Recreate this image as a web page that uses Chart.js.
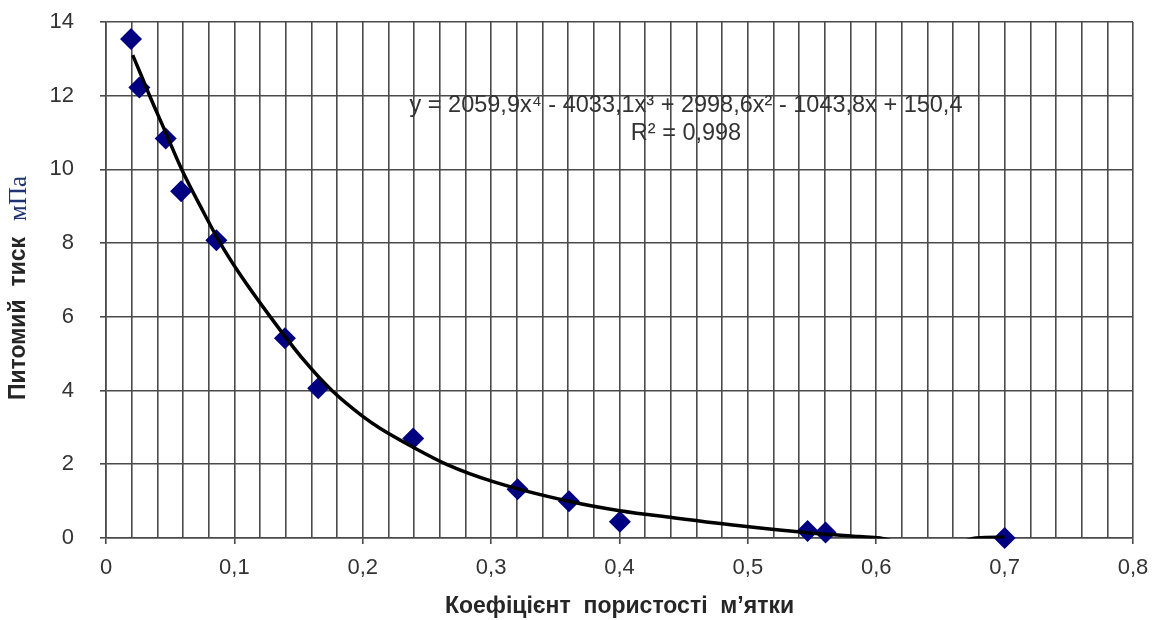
<!DOCTYPE html>
<html>
<head>
<meta charset="utf-8">
<script src="https://cdn.jsdelivr.net/npm/chart.js@4.4.1/dist/chart.umd.min.js"></script>
<style>
  html, body { margin: 0; padding: 0; background: #ffffff; }
  #wrap { width: 1155px; height: 620px; position: relative; }
</style>
</head>
<body>
<div id="wrap"><canvas id="chart" width="1155" height="620"></canvas></div>
<script>
// Measured points: porosity coefficient vs specific pressure (MPa)
const porosity = [0.0195, 0.026, 0.0465, 0.0585, 0.086, 0.1394, 0.1653, 0.2393, 0.3206, 0.3606, 0.4003, 0.5465, 0.5605, 0.700];
const pressure = [13.54, 12.22, 10.84, 9.41, 8.08, 5.42, 4.06, 2.70, 1.32, 1.00, 0.44, 0.19, 0.15, 0.00];

// Polynomial trend line, sampled along its drawn course
const trendX = [0.0208, 0.027, 0.034, 0.045, 0.059, 0.074, 0.089, 0.105, 0.128, 0.154, 0.176, 0.2, 0.2134, 0.24, 0.2653, 0.3016, 0.3614, 0.4003, 0.4418, 0.4989, 0.551, 0.5872, 0.603, 0.63, 0.655, 0.678, 0.70];
const trendY = [13.10, 12.59, 12.00, 11.12, 10.00, 8.97, 8.00, 7.12, 6.00, 4.83, 4.00, 3.30, 2.98, 2.45, 2.00, 1.53, 0.99, 0.74, 0.55, 0.31, 0.13, 0.04, 0.00, -0.22, -0.22, 0.00, 0.02];

// Axis tick labels (comma decimal separator)
const xTickLabels = ['0', '0,1', '0,2', '0,3', '0,4', '0,5', '0,6', '0,7', '0,8'];
const yTickLabels = ['0', '2', '4', '6', '8', '10', '12', '14'];

const equationText = 'y = 2059,9x\u2074 - 4033,1x\u00B3 + 2998,6x\u00B2 - 1043,8x + 150,4';
const r2Text = 'R\u00B2 = 0,998';
const xTitle = 'Коефіцієнт  пористості  м\u2019ятки';
const yTitleMain = 'Питомий  тиск';
const yTitleUnit = 'мПа';

const SANS = '"Liberation Sans", Arial, sans-serif';
const SERIF = '"Liberation Serif", "Times New Roman", serif';
const GRID = '#4a4a4a';

const isMajorX = v => Math.abs(v * 10 - Math.round(v * 10)) < 1e-6;

const textPlugin = {
  id: 'chartTexts',
  afterDraw(chart) {
    const ctx = chart.ctx;
    ctx.save();
    // trend equation and R²
    ctx.fillStyle = '#333333';
    ctx.font = '23.5px ' + SANS;
    ctx.textAlign = 'center';
    ctx.textBaseline = 'middle';
    ctx.fillText(equationText, 686, 106);
    ctx.fillText(r2Text, 686, 134);

    // x axis title
    ctx.fillStyle = '#262626';
    ctx.font = 'bold 23px ' + SANS;
    ctx.fillText(xTitle, (chart.chartArea.left + chart.chartArea.right) / 2, 607);

    // y axis title: bold label followed by the unit in a serif face
    ctx.translate(19, 288);
    ctx.rotate(-Math.PI / 2);
    ctx.font = 'bold 23px ' + SANS;
    const w1 = ctx.measureText(yTitleMain).width;
    ctx.font = '25px ' + SERIF;
    const w2 = ctx.measureText(yTitleUnit).width;
    const gap = 16;
    const total = w1 + gap + w2;
    ctx.textAlign = 'left';
    ctx.font = 'bold 23px ' + SANS;
    ctx.fillStyle = '#262626';
    ctx.fillText(yTitleMain, -total / 2, 0);
    ctx.font = '25px ' + SERIF;
    ctx.fillStyle = '#1f3470';
    ctx.fillText(yTitleUnit, -total / 2 + w1 + gap, 0);
    ctx.restore();
  }
};

new Chart(document.getElementById('chart'), {
  type: 'scatter',
  data: {
    datasets: [
      {
        label: 'trend',
        data: trendX.map((x, i) => ({ x, y: trendY[i] })),
        showLine: true,
        borderColor: '#000000',
        borderWidth: 3.5,
        pointRadius: 0,
        tension: 0.4,
        cubicInterpolationMode: 'monotone',
        clip: { left: 5, top: 5, right: 5, bottom: 0.5 }
      },
      {
        label: 'data',
        data: porosity.map((x, i) => ({ x, y: pressure[i] })),
        pointStyle: 'rectRot',
        pointRadius: 11,
        pointBackgroundColor: '#000080',
        pointBorderColor: '#000080',
        pointBorderWidth: 0,
        clip: false
      }
    ]
  },
  options: {
    responsive: false,
    animation: false,
    events: [],
    layout: { autoPadding: false, padding: { left: 0, right: 22, top: 22, bottom: 0 } },
    plugins: { legend: { display: false }, tooltip: { enabled: false } },
    scales: {
      x: {
        type: 'linear',
        min: 0,
        max: 0.8,
        afterFit: s => { s.height = 82; s.paddingLeft = 0; s.paddingRight = 0; },
        ticks: {
          stepSize: 0.02,
          autoSkip: false,
          maxRotation: 0,
          padding: 11,
          color: '#333333',
          font: { family: SANS, size: 22 },
          callback: v => isMajorX(v) ? xTickLabels[Math.round(v * 10)] : ''
        },
        grid: {
          color: GRID,
          lineWidth: 1.6,
          tickLength: 6,
          tickColor: c => (c.tick && isMajorX(c.tick.value)) ? GRID : 'rgba(0,0,0,0)'
        },
        border: { color: GRID, width: 1.6 }
      },
      y: {
        min: 0,
        max: 14,
        afterFit: s => { s.width = 106; s.paddingTop = 0; s.paddingBottom = 0; },
        ticks: {
          stepSize: 2,
          padding: 26,
          color: '#333333',
          font: { family: SANS, size: 22 },
          callback: v => yTickLabels[Math.round(v / 2)]
        },
        grid: { color: GRID, lineWidth: 1.6, tickLength: 6 },
        border: { color: GRID, width: 1.6 }
      }
    }
  },
  plugins: [textPlugin]
});
</script>
</body>
</html>
